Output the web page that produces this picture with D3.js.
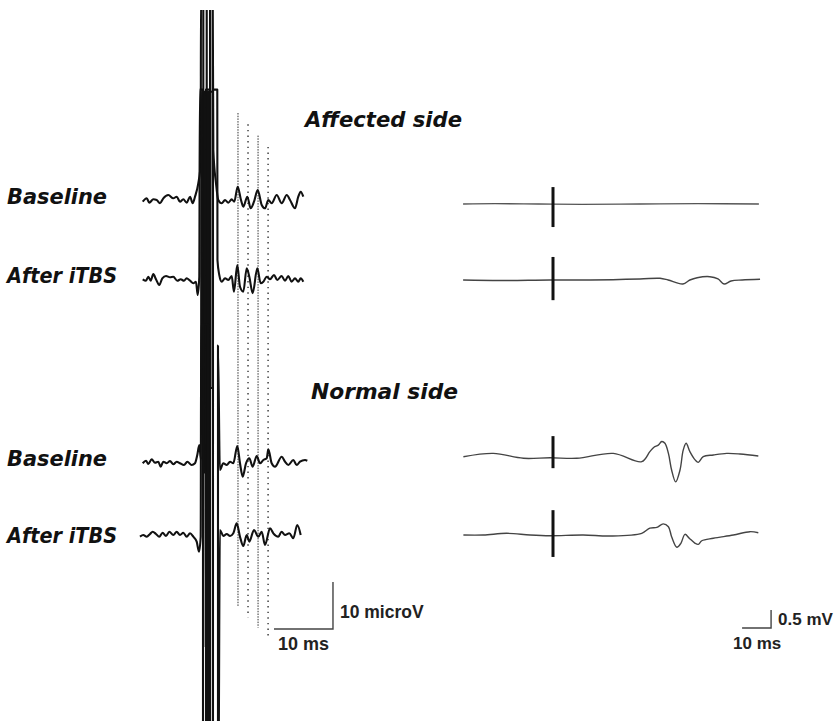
<!DOCTYPE html>
<html>
<head>
<meta charset="utf-8">
<script src="https://cdn.jsdelivr.net/npm/d3@7"></script>
<style>
  body { margin: 0; background: #fff; }
  svg { display: block; }
  .lbl  { font-family: "DejaVu Sans", sans-serif; font-weight: bold; font-style: italic; font-size: 21px; fill: #111; }
  .unit { font-family: "Liberation Sans", Arial, sans-serif; font-weight: bold; fill: #222; }
</style>
</head>
<body>
<svg id="fig" width="839" height="721"></svg>
<script>
/* ------------------------------- data -------------------------------- */
// left column: evoked potentials, [ms, microV], stimulus at 0 ms
const affectedBaselineL = [[-11.05,-0.36],[-10.37,0.36],[-9.93,-0.57],[-9.25,0.15],[-8.68,0],[-8.12,-0.7],[-7.56,0.36],
  [-6.71,1.06],[-5.86,0.36],[-5.29,0.7],[-4.73,-0.36],[-4.17,0.15],[-3.59,-0.57],[-3.03,0.7],[-2.58,-0.7],[-2.19,0.7],
  [-1.63,3.55],[-1.22,7.87],[-1.17,45],[-0.78,45],[-0.78,-40],[-0.2,-40],[-0.2,45],[0.36,45],[0.36,-40],[0.81,-40],
  [0.81,45],[0.92,10.6],[1.37,3.6],[1.76,0],[2.34,-0.7],[2.9,0],[3.46,-0.57],[4.03,0.15],[4.47,-0.36],[5.05,2.83],
  [5.61,0],[6.0,-1.43],[6.68,0.7],[7.25,-1.77],[7.81,-0.36],[8.44,2.13],[9.12,-1.06],[9.68,-1.77],[10.24,0],
  [10.81,-0.7],[11.66,1.06],[12.51,-0.7],[13.36,1.06],[13.92,0],[14.76,-1.77],[15.32,0.7],[15.73,1.77],[16.17,0.7]];
const affectedItbsL = [[-11.05,0.15],[-10.49,-0.15],[-10.1,0.7],[-9.69,-0.15],[-9.25,1.28],[-8.8,0.15],[-8.24,-1.06],
  [-7.73,0.36],[-7.1,0.85],[-6.42,0.57],[-5.86,0.7],[-5.19,-0.15],[-4.61,0.15],[-4.05,-0.15],[-3.61,0.36],[-3.03,-0.15],
  [-2.47,-0.7],[-2.02,-0.36],[-1.73,-3.19],[-1.46,0.7],[-1.36,40.5],[-0.83,40.5],[-0.83,-95],[-0.32,-95],[-0.32,40.5],
  [0.36,40.5],[0.36,-95],[0.86,-95],[0.86,40.5],[1.59,40.5],[1.62,4.26],[1.93,1.06],[2.34,-0.36],[2.9,0.36],[3.46,0],
  [4.03,0.85],[4.42,-2.49],[4.98,3.19],[5.44,-1.43],[6.0,-2.49],[6.58,2.49],[7.02,0.7],[7.59,-2.83],[8.37,2.49],
  [8.95,-0.7],[9.39,-0.36],[9.97,0.7],[10.53,0.15],[11.2,1.06],[11.76,0],[12.49,0.85],[13.07,-0.15],[13.63,0.85],
  [14.19,-0.36],[14.76,0.36],[15.32,-0.36],[15.73,0.36],[16.17,-0.36]];
const normalBaselineL = [[-11.05,-0.06],[-10.49,0.49],[-10.1,-0.21],[-9.53,0.79],[-8.97,0.06],[-8.41,0.28],[-8.0,-0.79],
  [-7.56,0.28],[-6.98,-0.06],[-6.42,0.43],[-5.86,-0.28],[-5.29,0.28],[-4.73,-0.06],[-4.05,-0.43],[-3.49,0.28],
  [-2.75,-0.43],[-2.19,-0.06],[-1.8,1.7],[-1.46,3.83],[-1.17,0.64],[-1.09,79],[-0.58,79],[-0.58,-2],[0.02,-2],
  [0.02,79],[0.86,79],[0.86,-60],[1.71,-60],[1.71,25],[2.03,-1.49],[2.61,-0.06],[3.19,-0.43],[3.75,0.28],[4.31,-0.06],
  [4.98,3.62],[5.44,-0.06],[5.9,-2.91],[6.46,-0.06],[7.02,1.0],[7.59,-0.79],[8.27,1.49],[8.83,-0.06],[9.39,0.64],
  [9.97,1.0],[10.24,2.91],[10.81,-0.06],[11.37,-0.79],[12.51,1.34],[13.07,0.28],[13.63,-0.43],[14.47,0.64],
  [15.05,-0.43],[15.61,0.28],[16.46,0.64],[16.85,0.49]];
const normalItbsL = [[-11.51,-0.15],[-10.95,0.21],[-10.37,-0.15],[-9.81,0.43],[-9.36,0.91],[-8.8,0.43],[-8.24,-0.15],
  [-7.68,0.7],[-7.1,0],[-6.54,0.91],[-5.86,0.21],[-5.29,0.91],[-4.73,0.21],[-4.17,0.7],[-3.59,-0.15],[-3.03,0.57],
  [-2.47,-0.15],[-1.9,-1.21],[-1.51,-3.34],[-1.22,-0.15],[-1.14,45],[-0.78,45],[-0.78,-23.6],[-0.7,45],[0.02,45],
  [0.02,-60],[1.76,-60],[2.03,1.28],[2.61,0],[3.19,0.43],[3.75,0],[4.31,0.57],[4.88,2.7],[5.44,-0.15],[6.0,-2.13],
  [6.58,0.21],[7.02,-1.21],[7.81,1.28],[8.54,-0.15],[9.12,0.91],[9.68,-1.91],[10.53,1.64],[11.09,0.57],[11.93,-0.15],
  [12.49,0.91],[13.07,0.21],[13.8,0.57],[14.47,-0.49],[15.15,2.34],[15.73,0.21]];

// right column: motor evoked potentials, [ms, mV], stimulus at 0 ms
const affectedBaselineR = [[-31,0],[-20,0.01],[-5,0],[10,-0.01],[30,0],[50,0.01],[71,0]];
const affectedItbsR = [[-31,0],[-18.3,-0.014],[-1,0],[12.8,0],[30,0.028],[36.9,0.047],[39.7,0],[44.8,-0.11],[47.2,0],
  [49.7,0.064],[54.1,0.092],[56.9,0.028],[59,-0.11],[61.4,-0.028],[65.2,0],[71.4,0.019]];
const normalBaselineR = [[-30.9,0.008],[-20.6,0.1],[-10.2,-0.036],[-1,-0.02],[8.2,-0.036],[20.8,0.1],[30.6,-0.13],
  [33.4,0.15],[34.8,0.27],[36.3,0.33],[37.5,0.43],[38.6,0.38],[39.8,0.1],[40.9,-0.36],[42.3,-0.69],[43.8,-0.36],
  [44.9,0.19],[45.9,0.38],[47.2,0.15],[49,-0.08],[50.1,-0.15],[51.8,0.008],[55.3,0.056],[59.9,0.1],[64.5,0.083],[70.8,0.028]];
const normalItbsR = [[-30.9,0],[-24,0],[-16,0.047],[-7.9,0],[-1,-0.02],[10.4,0],[19.7,-0.028],[30.6,0.047],[33.4,0.19],
  [35.8,0.21],[38,0.31],[39.8,0.23],[40.9,-0.047],[42.7,-0.34],[44.1,-0.23],[45.5,0.019],[47,-0.09],[49,-0.23],
  [50.1,-0.26],[51.3,-0.16],[55.3,-0.09],[62.2,0],[67.9,0.092],[70.8,0.064]];
// stimulus artifact extent in the right traces [top mV, bottom mV]
const artifactR = [[0.47,-0.64],[0.64,-0.56],[0.58,-0.31],[0.69,-0.61]];

// latency markers (ms)
const markerMs = [5.1, 6.8, 8.5, 10.2];

const rowLabels  = ['Baseline', 'After iTBS', 'Baseline', 'After iTBS'];
const sideTitles = ['Affected side', 'Normal side'];
const barLeft  = {ms: 10, amp: 10,  msText: '10 ms', ampText: '10 microV'};
const barRight = {ms: 10, amp: 0.5, msText: '10 ms', ampText: '0.5 mV'};

/* ------------------------------- layout ------------------------------ */
const svg = d3.select('#fig');
const rowYL = [200, 280, 463, 536];
const rowYR = [204, 280, 457, 535];

const xL = d3.scaleLinear().domain([-11, 17]).range([143, 308.2]);   // 5.9 px / ms
const xR = d3.scaleLinear().domain([-31, 71]).range([463.1, 758.9]); // 2.9 px / ms
const yL = y0 => d3.scaleLinear().domain([0, 10]).range([y0, y0 - 47]);   // 10 microV = 47 px
const yR = y0 => d3.scaleLinear().domain([0, 0.5]).range([y0, y0 - 18]);  // 0.5 mV = 18 px

svg.append('clipPath').attr('id', 'clipL')
  .append('rect').attr('x', 0).attr('y', 10).attr('width', 839).attr('height', 711);

/* ------------------------------- latency markers --------------------- */
svg.append('g').selectAll('line')
  .data(markerMs)
  .join('line')
  .attr('x1', d => xL(d)).attr('x2', d => xL(d))
  .attr('y1', (d, i) => 113 + i * 11.3)
  .attr('y2', (d, i) => 607 + i * 10.3)
  .attr('stroke', '#333')
  .attr('stroke-width', (d, i) => i % 2 ? 1.4 : 1)
  .attr('stroke-dasharray', (d, i) => i % 2 ? '1.4,4.2' : '1.5,1.2');

/* ------------------------------- left traces ------------------------- */
const tracesL = [affectedBaselineL, affectedItbsL, normalBaselineL, normalItbsL];
const gL = svg.append('g').attr('clip-path', 'url(#clipL)');
tracesL.forEach((tr, i) => {
  const ys = yL(rowYL[i]);
  gL.append('path')
    .datum(tr)
    .attr('d', d3.line().curve(d3.curveMonotoneX).x(d => xL(d[0])).y(d => ys(d[1])))
    .attr('fill', 'none')
    .attr('stroke', '#111')
    .attr('stroke-width', 2.1)
    .attr('stroke-linejoin', 'round');
});

/* ------------------------------- right traces ------------------------ */
const tracesR = [affectedBaselineR, affectedItbsR, normalBaselineR, normalItbsR];
tracesR.forEach((tr, i) => {
  const ys = yR(rowYR[i]);
  svg.append('path')
    .datum(tr)
    .attr('d', d3.line().curve(d3.curveCatmullRom).x(d => xR(d[0])).y(d => ys(d[1])))
    .attr('fill', 'none')
    .attr('stroke', i === 0 ? '#555' : '#444')
    .attr('stroke-width', i === 0 ? 1.3 : 1.4);
  svg.append('line')
    .attr('x1', xR(0)).attr('x2', xR(0))
    .attr('y1', ys(artifactR[i][0])).attr('y2', ys(artifactR[i][1]))
    .attr('stroke', '#111')
    .attr('stroke-width', 3);
});

/* ------------------------------- labels ------------------------------ */
const labelY = [204, 283, 466, 543];
const labelW = {'Baseline': 100, 'After iTBS': 110};
svg.append('g').selectAll('text')
  .data(rowLabels)
  .join('text')
  .attr('class', 'lbl')
  .attr('x', 7)
  .attr('y', (d, i) => labelY[i])
  .attr('textLength', d => labelW[d])
  .attr('lengthAdjust', 'spacingAndGlyphs')
  .text(d => d);

svg.append('g').selectAll('text')
  .data(sideTitles)
  .join('text')
  .attr('class', 'lbl')
  .attr('x', (d, i) => [305, 311][i])
  .attr('y', (d, i) => [127, 399][i])
  .attr('textLength', (d, i) => [157, 147][i])
  .attr('lengthAdjust', 'spacingAndGlyphs')
  .text(d => d);

/* ------------------------------- scale bars -------------------------- */
function scaleBar(xs, ys, bar, msEnd, baseY) {
  const x1 = xs(msEnd), x0 = xs(msEnd - bar.ms);
  const h = ys(0) - ys(bar.amp);
  svg.append('path')
    .attr('d', `M${x0},${baseY}H${x1}V${baseY - h}`)
    .attr('fill', 'none')
    .attr('stroke', '#444')
    .attr('stroke-width', 1.4);
  return {x0, x1};
}

const bl = scaleBar(xL, yL(0), barLeft, 21.2, 629);
svg.append('text').attr('class', 'unit').attr('font-size', 17.5)
  .attr('x', bl.x1 + 7).attr('y', 618).text(barLeft.ampText);
svg.append('text').attr('class', 'unit').attr('font-size', 18)
  .attr('x', bl.x0 + 4).attr('y', 650).text(barLeft.msText);

const br = scaleBar(xR, yR(0), barRight, 75.2, 628);
svg.append('text').attr('class', 'unit').attr('font-size', 17)
  .attr('x', br.x1 + 7).attr('y', 625).text(barRight.ampText);
svg.append('text').attr('class', 'unit').attr('font-size', 17)
  .attr('x', br.x0 - 9).attr('y', 649).text(barRight.msText);
</script>
</body>
</html>
